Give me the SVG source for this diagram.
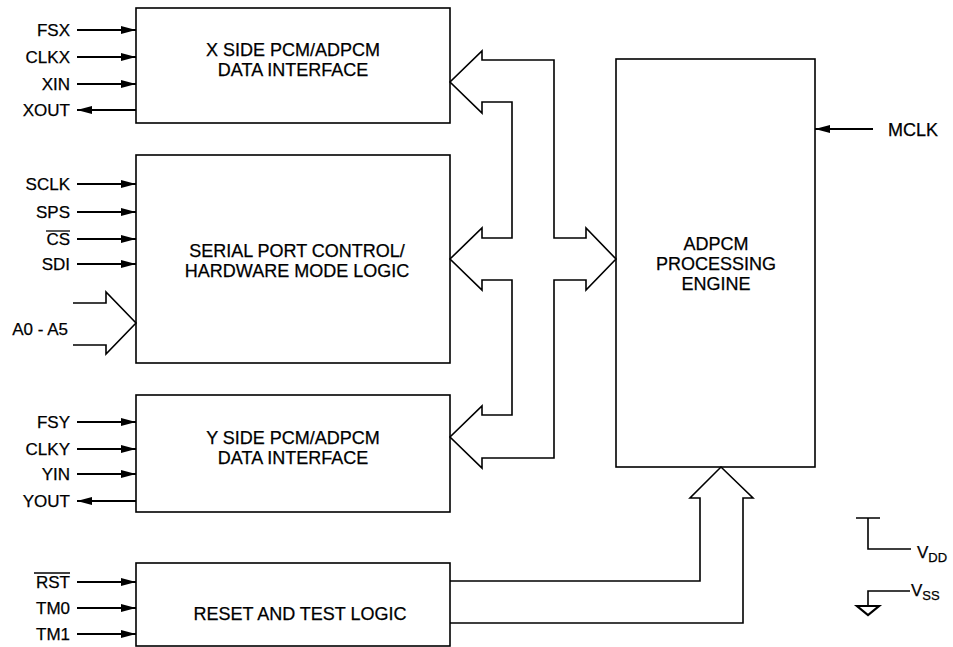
<svg xmlns="http://www.w3.org/2000/svg" width="953" height="647" viewBox="0 0 953 647">
<style>
.box{fill:#fff;stroke:#000;stroke-width:1.6}
.ln{fill:none;stroke:#000;stroke-width:1.6;stroke-linejoin:miter}
.pa{fill:none;stroke:#000;stroke-width:1.8}
.t{font-family:"Liberation Sans",Arial,sans-serif;font-size:18px;fill:#000;stroke:#000;stroke-width:0.25;text-anchor:middle}
.p{font-family:"Liberation Sans",Arial,sans-serif;font-size:17px;fill:#000;stroke:#000;stroke-width:0.25;text-anchor:end}
.s{font-family:"Liberation Sans",Arial,sans-serif;fill:#000;stroke:#000;stroke-width:0.25}
</style>
<defs>
<marker id="ah" viewBox="0 0 15 8" refX="15" refY="4" markerWidth="15" markerHeight="8" markerUnits="userSpaceOnUse" orient="auto">
<path d="M0,0 L15,4 L0,8 Z" fill="#000"/>
</marker>
</defs>
<rect width="953" height="647" fill="#fff"/>

<g id="node-x">
<rect class="box" x="136" y="8" width="314" height="115"/>
<text class="t" x="293" y="56">X SIDE PCM/ADPCM</text>
<text class="t" x="293" y="76">DATA INTERFACE</text>
</g>
<g id="node-serial">
<rect class="box" x="136" y="155" width="314" height="208"/>
<text class="t" x="297" y="257">SERIAL PORT CONTROL/</text>
<text class="t" x="297" y="277">HARDWARE MODE LOGIC</text>
</g>
<g id="node-y">
<rect class="box" x="136" y="395" width="314" height="117"/>
<text class="t" x="293" y="444">Y SIDE PCM/ADPCM</text>
<text class="t" x="293" y="464">DATA INTERFACE</text>
</g>
<g id="node-reset">
<rect class="box" x="136" y="563" width="314" height="83"/>
<text class="t" x="300" y="620">RESET AND TEST LOGIC</text>
</g>
<g id="node-engine">
<rect class="box" x="616" y="59" width="199" height="408"/>
<text class="t" x="716" y="250">ADPCM</text>
<text class="t" x="716" y="270">PROCESSING</text>
<text class="t" x="716" y="290">ENGINE</text>
</g>

<g id="connectors">
<path class="ln" d="M586,238 L554,238 L554,60 L482,60 L482,51 L450,82 L482,113 L482,102 L512,102 L512,238 L482,238 L482,228 L450,259 L482,290 L482,280 L512,280 L512,415 L482,415 L482,406 L450,437 L482,468 L482,458 L554,458 L554,280 L586,280 L586,290 L616,259 L586,228 Z"/>
<path class="ln" d="M73,303 L106,303 L106,292 L136,323 L106,354 L106,345 L73,345"/>
<path class="ln" d="M450,581 L700,581 L700,498 L690,498 L721,467 L753,498 L743,498 L743,623 L450,623"/>
<line class="pa" x1="77" y1="30" x2="136" y2="30" marker-end="url(#ah)"/>
<line class="pa" x1="77" y1="57" x2="136" y2="57" marker-end="url(#ah)"/>
<line class="pa" x1="77" y1="84" x2="136" y2="84" marker-end="url(#ah)"/>
<line class="pa" x1="136" y1="110" x2="77" y2="110" marker-end="url(#ah)"/>
<line class="pa" x1="77" y1="184" x2="136" y2="184" marker-end="url(#ah)"/>
<line class="pa" x1="77" y1="212" x2="136" y2="212" marker-end="url(#ah)"/>
<line class="pa" x1="77" y1="239" x2="136" y2="239" marker-end="url(#ah)"/>
<line class="pa" x1="77" y1="264" x2="136" y2="264" marker-end="url(#ah)"/>
<line class="pa" x1="77" y1="422" x2="136" y2="422" marker-end="url(#ah)"/>
<line class="pa" x1="77" y1="449" x2="136" y2="449" marker-end="url(#ah)"/>
<line class="pa" x1="77" y1="474" x2="136" y2="474" marker-end="url(#ah)"/>
<line class="pa" x1="136" y1="501" x2="77" y2="501" marker-end="url(#ah)"/>
<line class="pa" x1="77" y1="582" x2="136" y2="582" marker-end="url(#ah)"/>
<line class="pa" x1="77" y1="608" x2="136" y2="608" marker-end="url(#ah)"/>
<line class="pa" x1="77" y1="634" x2="136" y2="634" marker-end="url(#ah)"/>
<line class="pa" x1="873" y1="129" x2="815" y2="129" marker-end="url(#ah)"/>
</g>

<g id="pins">
<text class="p" x="70" y="36">FSX</text>
<text class="p" x="70" y="63">CLKX</text>
<text class="p" x="70" y="90">XIN</text>
<text class="p" x="70" y="116">XOUT</text>
<text class="p" x="70" y="190">SCLK</text>
<text class="p" x="70" y="218">SPS</text>
<text class="p" x="70" y="245">CS</text>
<line x1="46" y1="231" x2="70" y2="231" stroke="#000" stroke-width="1.3"/>
<text class="p" x="70" y="270">SDI</text>
<text class="p" x="68" y="335">A0 - A5</text>
<text class="p" x="70" y="428">FSY</text>
<text class="p" x="70" y="455">CLKY</text>
<text class="p" x="70" y="480">YIN</text>
<text class="p" x="70" y="507">YOUT</text>
<text class="p" x="70" y="588">RST</text>
<line x1="34" y1="573" x2="70" y2="573" stroke="#000" stroke-width="1.3"/>
<text class="p" x="70" y="614">TM0</text>
<text class="p" x="70" y="640">TM1</text>
<text class="s" x="888" y="136" font-size="18">MCLK</text>
</g>

<g id="power">
<path class="ln" d="M856,518 L880,518 M868,518 L868,549 L911,549"/>
<text class="s" x="917" y="558" font-size="17">V<tspan font-size="13" dy="4">DD</tspan></text>
<path class="ln" d="M910,591 L868,591 L868,606"/>
<path d="M857,606 L879,606 L868,615 Z" fill="none" stroke="#000" stroke-width="2.2" stroke-linejoin="miter"/>
<text class="s" x="911" y="596" font-size="17">V<tspan font-size="13" dy="4">SS</tspan></text>
</g>
</svg>
